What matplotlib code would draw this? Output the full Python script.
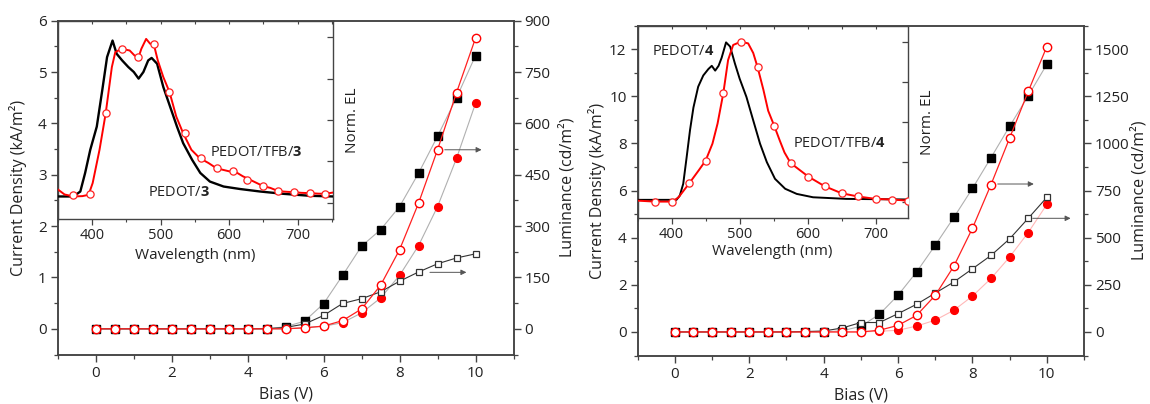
import numpy as np
import matplotlib
matplotlib.use('Agg')
import matplotlib.pyplot as plt
from matplotlib.ticker import MultipleLocator, NullFormatter

plt.rcParams['font.family'] = ['Open Sans', 'DejaVu Sans']
plt.rcParams['mathtext.fontset'] = 'custom'
plt.rcParams['mathtext.rm'] = 'Open Sans'
plt.rcParams['mathtext.bf'] = 'Open Sans:bold'
plt.rcParams['text.color'] = '#222222'
plt.rcParams['axes.labelcolor'] = '#222222'
plt.rcParams['xtick.color'] = '#444444'
plt.rcParams['ytick.color'] = '#444444'
plt.rcParams['xtick.labelcolor'] = '#222222'
plt.rcParams['ytick.labelcolor'] = '#222222'

# ---------------- data ----------------
bias = [0, 0.5, 1, 1.5, 2, 2.5, 3, 3.5, 4, 4.5, 5, 5.5, 6, 6.5, 7, 7.5, 8, 8.5, 9, 9.5, 10]

# panel 3
j_pedot3 = [0, 0, 0, 0, 0, 0, 0, 0, 0, 0, 0.04, 0.15, 0.49, 1.04, 1.61, 1.93, 2.38, 3.03, 3.75, 4.50, 5.32]
j_tfb3 = [0, 0, 0, 0, 0, 0, 0, 0, 0, 0, 0, 0.02, 0.05, 0.12, 0.31, 0.60, 1.04, 1.62, 2.38, 3.32, 4.39]
l_pedot3 = [0, 0, 0, 0, 0, 0, 0, 0, 0, 0.5, 4, 14, 39, 74, 88, 108, 139, 166, 190, 207, 219]
l_tfb3 = [0, 0, 0, 0, 0, 0, 0, 0, 0, 0, 0, 3, 8, 24, 58, 127, 231, 367, 523, 690, 849]

# panel 4
j_pedot4 = [0, 0, 0, 0, 0, 0, 0, 0, 0, 0.05, 0.24, 0.75, 1.56, 2.55, 3.68, 4.86, 6.09, 7.40, 8.73, 10.02, 11.36]
j_tfb4 = [0, 0, 0, 0, 0, 0, 0, 0, 0, 0, 0, 0.03, 0.07, 0.25, 0.50, 0.92, 1.52, 2.27, 3.18, 4.22, 5.41]
l_pedot4 = [0, 0, 0, 0, 0, 0, 0, 2, 5, 21, 50, 50, 97, 147, 206, 265, 335, 406, 494, 603, 714]
l_tfb4 = [0, 0, 0, 0, 0, 0, 0, 0, 0, 0, 0, 9, 35, 88, 194, 349, 550, 782, 1029, 1276, 1514]

# arrows (bias start, bias end, luminance level)
arrows3 = [(9.19, 10.16, 523), (8.80, 9.76, 165)]
arrows4 = [(8.68, 9.65, 785), (9.62, 10.64, 603)]

# EL spectra, inset 3
wl_pedot3 = [351, 373, 383, 390, 397.5, 407, 415, 422, 430, 436, 444, 453, 461, 468, 475, 482, 487,
             495, 504, 514, 524, 533, 546, 558, 572, 592, 616, 645, 679, 718, 752]
el_pedot3 = [0.038, 0.038, 0.068, 0.18, 0.32, 0.46, 0.68, 0.88, 0.98, 0.90, 0.86, 0.82, 0.79, 0.75, 0.79,
             0.86, 0.875, 0.84, 0.70, 0.58, 0.46, 0.36, 0.26, 0.18, 0.128, 0.098, 0.083, 0.068, 0.054, 0.042, 0.038]
wl_tfb3 = [351, 360, 373, 386, 395, 401, 411, 420, 429, 434, 443, 455, 462, 468, 472, 479, 485, 490,
           496, 504, 513, 523, 533, 545, 557, 570, 581, 590, 600, 610, 620, 630, 640, 650, 660, 672,
           685, 695, 705, 718, 730, 740, 752]
el_tfb3 = [0.078, 0.05, 0.038, 0.04, 0.048, 0.119, 0.32, 0.54, 0.82, 0.91, 0.93, 0.92, 0.89, 0.88, 0.93,
           0.99, 0.96, 0.96, 0.86, 0.76, 0.67, 0.52, 0.42, 0.32, 0.27, 0.24, 0.21, 0.20, 0.19, 0.185, 0.16,
           0.14, 0.12, 0.10, 0.09, 0.07, 0.066, 0.064, 0.06, 0.058, 0.055, 0.054, 0.062]
wlm_tfb3 = [372, 396.5, 421, 444, 467, 490, 512.5, 536, 559, 582, 605, 626.5, 650, 671.5, 694.5, 718, 739.5]
elm_tfb3 = [0.048, 0.054, 0.54, 0.93, 0.88, 0.96, 0.67, 0.42, 0.27, 0.21, 0.19, 0.14, 0.10, 0.07, 0.064, 0.058, 0.054]

# EL spectra, inset 4
wl_pedot4 = [350, 407, 412, 417, 422, 427, 432, 439, 446.5, 454, 459, 464, 469, 473.5, 480, 486, 493,
             500, 510, 520, 530, 540, 552, 567, 584, 608, 657, 750]
el_pedot4 = [0.015, 0.015, 0.042, 0.115, 0.28, 0.45, 0.59, 0.72, 0.79, 0.83, 0.85, 0.82, 0.85, 0.90,
             0.996, 0.97, 0.865, 0.77, 0.656, 0.51, 0.365, 0.25, 0.146, 0.084, 0.052, 0.031, 0.021, 0.017]
wl_tfb4 = [350, 375, 401, 410, 426, 440, 450, 460, 467.5, 476, 483, 490.5, 501.5, 512.5, 520, 526.5,
           535, 542, 551, 559, 566, 575, 601, 625, 650, 674, 700, 724, 748]
el_tfb4 = [0.01, 0.004, 0.004, 0.03, 0.119, 0.2, 0.26, 0.365, 0.49, 0.68, 0.886, 0.98, 1.0, 0.99, 0.93,
           0.84, 0.70, 0.57, 0.475, 0.385, 0.31, 0.244, 0.16, 0.10, 0.056, 0.036, 0.021, 0.017, 0.01]
wlm_tfb4 = [375, 401, 426, 450.4, 476, 501.5, 526.5, 551, 575.4, 601, 625.4, 650, 674.4, 700, 724.4, 748]
elm_tfb4 = [0.004, 0.004, 0.119, 0.26, 0.68, 1.0, 0.84, 0.475, 0.244, 0.16, 0.10, 0.056, 0.036, 0.021, 0.017, 0.01]

W, H = 1150, 404
fig = plt.figure(figsize=(W / 100, H / 100), dpi=100)

SPINE = '#444444'


def px_rect(l, t, r, b):
    return [l / W, 1 - b / H, (r - l) / W, (b - t) / H]


def style_spines(ax, lw=1.1):
    for s in ax.spines.values():
        s.set_color(SPINE)
        s.set_linewidth(lw)


def main_panel(rect, ylim, ytick_major, ytick_minor, rlim, rtick_major, rtick_minor,
               jp, jt, lp, lt, arrows, tfb_fill_line, ylab_x, rlab_x):
    ax = fig.add_axes(rect)
    ax.set_xlim(-1, 11)
    ax.set_ylim(*ylim)
    ax.xaxis.set_major_locator(MultipleLocator(2))
    ax.xaxis.set_minor_locator(MultipleLocator(1))
    ax.yaxis.set_major_locator(MultipleLocator(ytick_major))
    ax.yaxis.set_minor_locator(MultipleLocator(ytick_minor))
    ax.tick_params(which='major', direction='out', length=5, width=1.0, labelsize=11, pad=3,
                   top=False, right=False)
    ax.tick_params(which='minor', direction='out', length=3, width=0.9, top=False, right=False)
    style_spines(ax)
    ax.plot(bias, jp, '-', color='#b0b0b0', lw=0.8, marker='s', ms=5.2, mfc='black', mec='black', zorder=3)
    ax.plot(bias, jt, '-', color=tfb_fill_line, lw=0.8, marker='o', ms=5.6, mfc='#ff0000', mec='#ff0000', zorder=3)
    ax.set_xlabel('Bias (V)', fontsize=11.5, labelpad=4)
    ax.set_ylabel('Current Density (kA/m²)', fontsize=11.5)
    ax.yaxis.set_label_coords(ylab_x, 0.5)

    ar = ax.twinx()
    ar.set_ylim(*rlim)
    ar.yaxis.set_major_locator(MultipleLocator(rtick_major))
    ar.yaxis.set_minor_locator(MultipleLocator(rtick_minor))
    ar.tick_params(which='major', direction='out', length=5, width=1.0, labelsize=11, pad=3)
    ar.tick_params(which='minor', direction='out', length=3, width=0.9)
    style_spines(ar)
    ar.plot(bias, lp, '-', color='#333333', lw=0.8, marker='s', ms=4.6, mfc='white', mec='#333333',
            mew=0.9, zorder=3)
    ar.plot(bias, lt, '-', color='#ff2020', lw=0.9, marker='o', ms=6.0, mfc='white', mec='#ff0000',
            mew=1.0, zorder=4)
    for x0, x1, yv in arrows:
        ar.annotate('', xy=(x1, yv), xytext=(x0, yv),
                    arrowprops=dict(arrowstyle='-|>', color='#555555', lw=0.7,
                                    mutation_scale=8, shrinkA=0, shrinkB=0))
    ar.set_ylabel('Luminance (cd/m²)', fontsize=11.5)
    ar.yaxis.set_label_coords(rlab_x, 0.5)
    return ax, ar


def inset(rect, xlim, wl_p, el_p, wl_t, el_t, wlm, elm, lab_p, pos_p, lab_t, pos_t, xlab_y, nlab_x,
          black_lw):
    ai = fig.add_axes(rect)
    ai.set_facecolor('white')
    ai.set_xlim(*xlim)
    ai.set_ylim(-0.1, 1.1)
    ai.xaxis.set_major_locator(MultipleLocator(100))
    ai.xaxis.set_minor_locator(MultipleLocator(50))
    ai.yaxis.set_major_locator(MultipleLocator(0.25))
    ai.yaxis.set_major_formatter(NullFormatter())
    ai.tick_params(axis='x', which='both', direction='out', bottom=True, top=False, labelsize=10.5, pad=2)
    ai.tick_params(axis='x', which='major', length=4, width=0.9)
    ai.tick_params(axis='x', which='minor', length=2.5, width=0.8)
    ai.tick_params(axis='y', which='major', direction='in', left=False, right=True, length=4,
                   width=0.9, labelleft=False, labelright=False)
    style_spines(ai, 1.0)
    ai.plot(wl_p, el_p, '-', color='black', lw=black_lw, zorder=3)
    ai.plot(wl_t, el_t, '-', color='#ff0000', lw=1.4, zorder=4)
    ai.plot(wlm, elm, 'o', ms=5.2, mfc='white', mec='#ff2020', mew=0.9, zorder=5)
    ai.set_xlabel('Wavelength (nm)', fontsize=11)
    ai.xaxis.set_label_coords(0.5, xlab_y)
    ai.yaxis.set_label_position('right')
    ai.set_ylabel('Norm. EL', fontsize=11)
    ai.yaxis.set_label_coords(nlab_x, 0.5)
    ai.text(pos_p[0], pos_p[1], lab_p, fontsize=10.5, transform=ai.transAxes, va='center', ha='left')
    ai.text(pos_t[0], pos_t[1], lab_t, fontsize=10.5, transform=ai.transAxes, va='center', ha='left')
    at = ai.secondary_xaxis('top')
    at.xaxis.set_major_locator(MultipleLocator(50))
    at.tick_params(direction='in', length=2.5, width=0.8, labeltop=False)
    at.spines['top'].set_visible(False)
    return ai


# -------- left panel --------
L1, T1, R1, B1 = 57.7, 20.7, 513.5, 354.5
main_panel(px_rect(L1, T1, R1, B1), (-0.5, 6), 1, 0.5, (-75, 900), 150, 75,
           j_pedot3, j_tfb3, l_pedot3, l_tfb3, arrows3, '#b0b0b0',
           (27 - L1) / (R1 - L1), (559 - L1) / (R1 - L1))
iL, iT, iR, iB = 57.7, 20.7, 333.3, 219.3
inset(px_rect(iL, iT, iR, iB), (350, 752), wl_pedot3, el_pedot3, wl_tfb3, el_tfb3, wlm_tfb3, elm_tfb3,
      r'PEDOT/$\mathbf{3}$', ((148 - iL) / (iR - iL), (iB - 193) / (iB - iT)),
      r'PEDOT/TFB/$\mathbf{3}$', ((210 - iL) / (iR - iL), (iB - 152) / (iB - iT)),
      -(247.7 - iB) / (iB - iT), (345 - iL) / (iR - iL), 1.7)

# -------- right panel --------
L2, T2, R2, B2 = 637.7, 25.7, 1084, 355.5
main_panel(px_rect(L2, T2, R2, B2), (-1, 13), 2, 1, (-125, 1625), 250, 125,
           j_pedot4, j_tfb4, l_pedot4, l_tfb4, arrows4, '#ffb8b8',
           (606 - L2) / (R2 - L2), (1131 - L2) / (R2 - L2))
jL, jT, jR, jB = 637.7, 25.7, 907.5, 218.3
inset(px_rect(jL, jT, jR, jB), (350, 747), wl_pedot4, el_pedot4, wl_tfb4, el_tfb4, wlm_tfb4, elm_tfb4,
      r'PEDOT/$\mathbf{4}$', ((652 - jL) / (jR - jL), (jB - 51.7) / (jB - jT)),
      r'PEDOT/TFB/$\mathbf{4}$', ((793 - jL) / (jR - jL), (jB - 143.3) / (jB - jT)),
      -(243.7 - jB) / (jB - jT), (920 - jL) / (jR - jL), 1.4)

fig.savefig('out.png', dpi=100)
